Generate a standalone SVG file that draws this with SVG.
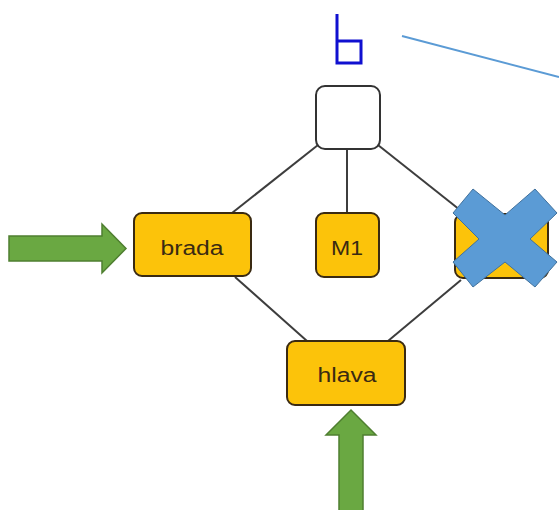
<svg xmlns="http://www.w3.org/2000/svg" width="559" height="510" viewBox="0 0 559 510">
<style>
.node{fill:#fcc30a;stroke:#3a2a12;stroke-width:2}
.lbl{font-family:"Liberation Sans",Arial,sans-serif;font-size:20px;fill:#3a2a12;text-anchor:middle}
.conn{stroke:#3d3d3d;stroke-width:2;fill:none}
.green{fill:#6aa842;stroke:#4f7f30;stroke-width:1.5}
</style>
<rect width="559" height="510" fill="#ffffff"/>
<g id="connectors">
<line class="conn" x1="318" y1="145" x2="232" y2="213"/>
<line class="conn" x1="347" y1="149" x2="347" y2="213"/>
<line class="conn" x1="378" y1="145" x2="460" y2="210"/>
<line class="conn" x1="235" y1="277" x2="307" y2="341"/>
<line class="conn" x1="461" y1="280" x2="388" y2="341"/>
<line x1="402" y1="36" x2="559" y2="77" stroke="#5b9bd5" stroke-width="2"/>
</g>
<g id="symbol">
<path d="M337 14 V63 H361 V41 H337" fill="none" stroke="#1010d0" stroke-width="3"/>
</g>
<g id="root">
<rect x="316" y="86" width="64" height="63" rx="9" fill="#ffffff" stroke="#333333" stroke-width="2"/>
</g>
<g id="brada">
<rect class="node" x="134" y="213" width="117" height="63" rx="8"/>
<text class="lbl" x="192" y="255" textLength="63" lengthAdjust="spacingAndGlyphs">brada</text>
</g>
<g id="m1">
<rect class="node" x="316" y="213" width="63" height="64" rx="8"/>
<text class="lbl" x="347" y="255" textLength="32" lengthAdjust="spacingAndGlyphs">M1</text>
</g>
<g id="right-node">
<rect class="node" x="455" y="214" width="93" height="64" rx="8"/>
</g>
<g id="hlava">
<rect class="node" x="287" y="341" width="118" height="64" rx="8"/>
<text class="lbl" x="347" y="382" textLength="59" lengthAdjust="spacingAndGlyphs">hlava</text>
</g>
<g id="cross">
<polygon points="453,213 473,189 505,215 535,189 557,213 530,239 557,262 535,287 505,262 473,287 453,262 479,239" fill="#5b9bd5" stroke="#41719c" stroke-width="1"/>
</g>
<g id="arrow-left">
<polygon class="green" points="9,236 102,236 102,224 126,248.5 102,273 102,261 9,261"/>
</g>
<g id="arrow-up">
<polygon class="green" points="339,511 339,435 326,435 351,410 376,435 363,435 363,511"/>
</g>
</svg>
